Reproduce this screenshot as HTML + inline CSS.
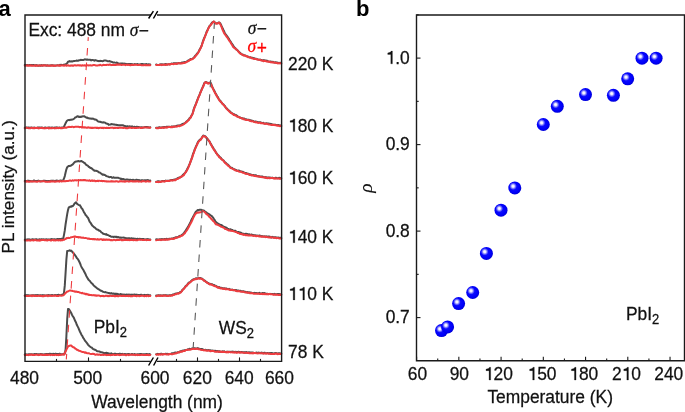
<!DOCTYPE html>
<html><head><meta charset="utf-8"><style>
html,body{margin:0;padding:0;background:#fff;}
body{width:685px;height:412px;overflow:hidden;font-family:"Liberation Sans",sans-serif;}
svg{display:block;will-change:transform;}
</style></head><body>
<svg width="685" height="412" viewBox="0 0 685 412">
<defs>
<radialGradient id="sph" cx="0.45" cy="0.45" r="0.55">
<stop offset="0" stop-color="#1414ff"/>
<stop offset="0.75" stop-color="#0000fa"/>
<stop offset="1" stop-color="#0000d8"/>
</radialGradient>
<radialGradient id="hl" cx="0.5" cy="0.5" r="0.5">
<stop offset="0" stop-color="#fff" stop-opacity="1"/>
<stop offset="0.3" stop-color="#fff" stop-opacity="0.92"/>
<stop offset="0.65" stop-color="#fff" stop-opacity="0.4"/>
<stop offset="1" stop-color="#fff" stop-opacity="0"/>
</radialGradient>
</defs>
<g fill="none" stroke-width="2.0" stroke-linejoin="round" stroke-linecap="round">
<path d="M24.80,65.03 L25.60,64.92 L26.40,65.28 L27.20,64.88 L28.00,65.22 L28.80,65.12 L29.60,64.91 L30.40,65.24 L31.20,64.93 L32.00,65.22 L32.80,64.98 L33.60,65.00 L34.40,65.25 L35.20,65.55 L36.00,65.07 L36.80,65.15 L37.60,65.45 L38.40,65.69 L39.20,65.44 L40.00,65.33 L40.80,65.75 L41.60,65.11 L42.40,65.69 L43.20,65.30 L44.00,65.21 L44.80,65.21 L45.60,65.35 L46.40,65.72 L47.20,65.28 L48.00,65.57 L48.80,65.62 L49.60,65.44 L50.40,65.57 L51.20,65.23 L52.00,65.23 L52.80,65.34 L53.60,65.67 L54.40,65.50 L55.20,65.42 L56.00,65.57 L56.80,65.39 L57.60,65.17 L58.40,65.39 L59.20,65.20 L60.00,64.77 L60.80,64.92 L61.60,64.85 L62.40,65.08 L63.20,64.96 L64.00,64.60 L64.80,65.00 L65.60,64.26 L66.40,63.86 L67.20,63.13 L68.00,61.79 L68.80,61.58 L69.60,61.11 L70.40,61.47 L71.20,61.49 L72.00,61.33 L72.80,61.48 L73.60,60.98 L74.40,61.11 L75.20,60.88 L76.00,60.72 L76.80,60.49 L77.60,60.65 L78.40,60.63 L79.20,60.23 L80.00,60.28 L80.80,59.77 L81.60,60.09 L82.40,59.89 L83.20,59.97 L84.00,59.73 L84.80,59.30 L85.60,59.42 L86.40,59.73 L87.20,59.41 L88.00,59.86 L88.80,59.75 L89.60,59.79 L90.40,59.81 L91.20,60.37 L92.00,59.98 L92.80,60.11 L93.60,60.25 L94.40,60.62 L95.20,60.10 L96.00,60.42 L96.80,60.59 L97.60,60.94 L98.40,61.03 L99.20,61.18 L100.00,60.86 L100.80,60.99 L101.60,60.91 L102.40,61.18 L103.20,61.10 L104.00,60.43 L104.80,60.43 L105.60,60.52 L106.40,60.63 L107.20,60.95 L108.00,61.19 L108.80,61.13 L109.60,61.10 L110.40,61.54 L111.20,61.67 L112.00,61.97 L112.80,62.40 L113.60,62.39 L114.40,62.42 L115.20,62.65 L116.00,62.85 L116.80,62.56 L117.60,63.31 L118.40,63.37 L119.20,63.57 L120.00,63.63 L120.80,63.46 L121.60,63.56 L122.40,63.45 L123.20,63.91 L124.00,63.59 L124.80,63.68 L125.60,63.86 L126.40,63.92 L127.20,64.12 L128.00,63.99 L128.80,63.99 L129.60,64.11 L130.40,64.07 L131.20,64.25 L132.00,64.02 L132.80,64.61 L133.60,64.43 L134.40,64.10 L135.20,64.18 L136.00,64.24 L136.80,64.25 L137.60,64.09 L138.40,64.59 L139.20,64.70 L140.00,64.33 L140.80,64.34 L141.60,64.07 L142.40,64.09 L143.20,64.27 L144.00,64.23 L144.80,64.65 L145.60,64.20 L146.40,64.12 L147.20,64.79 L148.00,64.52 L148.80,64.27 L149.60,64.57 L150.30,64.55" stroke="#4b4b4b"/>
<path d="M156.20,64.42 L157.00,64.72 L157.80,64.99 L158.60,64.87 L159.40,64.71 L160.20,64.37 L161.00,64.40 L161.80,64.22 L162.60,64.60 L163.40,64.39 L164.20,64.52 L165.00,64.16 L165.80,64.03 L166.60,64.40 L167.40,64.46 L168.20,64.31 L169.00,64.22 L169.80,64.16 L170.60,64.04 L171.40,63.61 L172.20,63.74 L173.00,63.54 L173.80,63.23 L174.60,63.15 L175.40,63.24 L176.20,63.13 L177.00,63.34 L177.80,63.44 L178.60,62.98 L179.40,63.23 L180.20,63.17 L181.00,63.07 L181.80,62.60 L182.60,62.43 L183.40,62.33 L184.20,62.16 L185.00,61.94 L185.80,61.92 L186.60,61.71 L187.40,61.21 L188.20,60.48 L189.00,60.13 L189.80,59.81 L190.60,58.98 L191.40,59.12 L192.20,58.97 L193.00,58.37 L193.80,57.66 L194.60,56.67 L195.40,55.56 L196.20,55.00 L197.00,53.61 L197.80,52.81 L198.60,51.73 L199.40,50.01 L200.20,48.53 L201.00,47.21 L201.80,45.04 L202.60,42.43 L203.40,40.11 L204.20,37.92 L205.00,36.39 L205.80,34.25 L206.60,31.75 L207.40,30.30 L208.20,28.66 L209.00,26.94 L209.80,25.62 L210.60,24.86 L211.40,23.60 L212.20,22.34 L213.00,22.05 L213.80,21.59 L214.60,22.15 L215.40,23.27 L216.20,23.20 L217.00,23.39 L217.80,23.15 L218.60,22.53 L219.40,22.48 L220.20,23.15 L221.00,24.65 L221.80,26.75 L222.60,28.18 L223.40,30.02 L224.20,31.55 L225.00,33.61 L225.80,34.41 L226.60,35.51 L227.40,36.61 L228.20,37.99 L229.00,38.92 L229.80,40.59 L230.60,41.61 L231.40,42.91 L232.20,44.21 L233.00,45.14 L233.80,46.65 L234.60,47.53 L235.40,48.26 L236.20,49.53 L237.00,49.73 L237.80,50.58 L238.60,51.49 L239.40,52.18 L240.20,52.82 L241.00,53.68 L241.80,54.28 L242.60,54.88 L243.40,54.75 L244.20,55.35 L245.00,55.40 L245.80,55.70 L246.60,56.32 L247.40,56.40 L248.20,56.69 L249.00,57.07 L249.80,57.41 L250.60,57.31 L251.40,57.65 L252.20,57.79 L253.00,58.01 L253.80,58.34 L254.60,58.37 L255.40,58.63 L256.20,58.79 L257.00,59.30 L257.80,59.32 L258.60,59.63 L259.40,59.85 L260.20,59.55 L261.00,59.93 L261.80,60.36 L262.60,60.45 L263.40,60.11 L264.20,60.26 L265.00,60.63 L265.80,60.52 L266.60,60.78 L267.40,60.81 L268.20,61.37 L269.00,61.59 L269.80,61.80 L270.60,61.40 L271.40,61.92 L272.20,62.00 L273.00,61.76 L273.80,62.39 L274.60,62.56 L275.40,62.15 L276.20,62.77 L277.00,62.49 L277.80,62.66 L278.60,63.12 L279.40,63.13 L280.20,62.77 L281.00,63.07 L281.20,63.15" stroke="#4b4b4b"/>
<path d="M24.80,127.76 L25.60,127.64 L26.40,127.54 L27.20,127.62 L28.00,127.90 L28.80,127.41 L29.60,127.79 L30.40,127.71 L31.20,127.41 L32.00,127.63 L32.80,127.83 L33.60,127.75 L34.40,127.44 L35.20,128.08 L36.00,127.95 L36.80,128.07 L37.60,127.47 L38.40,127.58 L39.20,127.42 L40.00,127.93 L40.80,127.58 L41.60,127.48 L42.40,127.68 L43.20,128.02 L44.00,127.95 L44.80,127.56 L45.60,127.48 L46.40,128.02 L47.20,127.77 L48.00,127.86 L48.80,127.43 L49.60,127.41 L50.40,127.84 L51.20,127.66 L52.00,127.41 L52.80,128.01 L53.60,127.79 L54.40,127.91 L55.20,127.40 L56.00,127.94 L56.80,127.38 L57.60,127.93 L58.40,127.64 L59.20,127.56 L60.00,127.70 L60.80,127.96 L61.60,127.49 L62.40,127.39 L63.20,127.59 L64.00,126.67 L64.80,124.89 L65.60,123.23 L66.40,121.61 L67.20,120.52 L68.00,120.10 L68.80,119.91 L69.60,120.16 L70.40,119.75 L71.20,119.85 L72.00,119.56 L72.80,119.53 L73.60,119.01 L74.40,118.47 L75.20,117.38 L76.00,117.22 L76.80,116.60 L77.60,116.24 L78.40,116.55 L79.20,117.02 L80.00,116.56 L80.80,117.04 L81.60,116.57 L82.40,116.35 L83.20,116.40 L84.00,116.16 L84.80,116.62 L85.60,117.20 L86.40,117.73 L87.20,117.56 L88.00,118.17 L88.80,118.32 L89.60,118.49 L90.40,118.54 L91.20,118.69 L92.00,118.60 L92.80,118.74 L93.60,118.79 L94.40,119.43 L95.20,119.38 L96.00,119.73 L96.80,120.14 L97.60,121.10 L98.40,121.47 L99.20,121.68 L100.00,121.74 L100.80,121.99 L101.60,122.23 L102.40,122.45 L103.20,122.28 L104.00,122.51 L104.80,122.43 L105.60,123.09 L106.40,123.56 L107.20,123.73 L108.00,123.97 L108.80,124.89 L109.60,124.62 L110.40,124.53 L111.20,124.05 L112.00,124.17 L112.80,124.28 L113.60,124.44 L114.40,124.42 L115.20,124.83 L116.00,124.64 L116.80,124.99 L117.60,125.03 L118.40,125.39 L119.20,125.22 L120.00,125.19 L120.80,125.30 L121.60,125.14 L122.40,125.31 L123.20,125.34 L124.00,125.75 L124.80,125.99 L125.60,126.28 L126.40,126.52 L127.20,126.25 L128.00,126.25 L128.80,126.75 L129.60,126.22 L130.40,126.67 L131.20,126.66 L132.00,126.29 L132.80,126.89 L133.60,126.97 L134.40,126.84 L135.20,126.97 L136.00,127.09 L136.80,126.68 L137.60,127.01 L138.40,127.06 L139.20,127.34 L140.00,127.36 L140.80,127.41 L141.60,127.27 L142.40,127.51 L143.20,127.38 L144.00,127.40 L144.80,127.09 L145.60,126.96 L146.40,127.04 L147.20,127.21 L148.00,127.04 L148.80,127.56 L149.60,127.38 L150.30,127.35" stroke="#4b4b4b"/>
<path d="M156.20,127.84 L157.00,127.78 L157.80,127.76 L158.60,127.57 L159.40,127.18 L160.20,127.68 L161.00,127.59 L161.80,127.36 L162.60,127.33 L163.40,127.36 L164.20,126.89 L165.00,127.30 L165.80,126.90 L166.60,126.72 L167.40,126.79 L168.20,127.04 L169.00,126.61 L169.80,126.91 L170.60,127.00 L171.40,126.58 L172.20,126.41 L173.00,126.39 L173.80,126.44 L174.60,126.39 L175.40,126.18 L176.20,126.11 L177.00,125.63 L177.80,125.59 L178.60,125.54 L179.40,125.70 L180.20,125.15 L181.00,125.04 L181.80,124.32 L182.60,123.99 L183.40,123.71 L184.20,123.52 L185.00,123.00 L185.80,122.39 L186.60,121.46 L187.40,120.88 L188.20,120.02 L189.00,119.12 L189.80,117.89 L190.60,117.39 L191.40,115.65 L192.20,114.51 L193.00,112.22 L193.80,109.03 L194.60,106.90 L195.40,105.04 L196.20,103.18 L197.00,100.90 L197.80,98.79 L198.60,96.74 L199.40,95.27 L200.20,92.81 L201.00,91.20 L201.80,89.07 L202.60,87.50 L203.40,85.76 L204.20,83.17 L205.00,82.47 L205.80,81.96 L206.60,82.39 L207.40,82.88 L208.20,82.86 L209.00,83.12 L209.80,82.57 L210.60,82.65 L211.40,84.48 L212.20,86.74 L213.00,88.33 L213.80,89.85 L214.60,91.31 L215.40,92.98 L216.20,94.44 L217.00,96.22 L217.80,96.95 L218.60,98.71 L219.40,99.94 L220.20,100.51 L221.00,102.07 L221.80,102.84 L222.60,103.86 L223.40,104.31 L224.20,105.28 L225.00,106.25 L225.80,107.66 L226.60,108.34 L227.40,109.11 L228.20,110.00 L229.00,110.67 L229.80,111.24 L230.60,111.96 L231.40,113.09 L232.20,113.27 L233.00,114.20 L233.80,114.12 L234.60,114.49 L235.40,115.02 L236.20,115.18 L237.00,115.73 L237.80,116.58 L238.60,116.95 L239.40,117.30 L240.20,117.52 L241.00,118.03 L241.80,118.32 L242.60,118.30 L243.40,118.66 L244.20,118.42 L245.00,119.13 L245.80,119.16 L246.60,119.60 L247.40,119.75 L248.20,119.71 L249.00,119.76 L249.80,120.59 L250.60,120.24 L251.40,120.68 L252.20,120.79 L253.00,120.95 L253.80,121.45 L254.60,121.79 L255.40,121.47 L256.20,121.92 L257.00,121.83 L257.80,122.17 L258.60,122.20 L259.40,122.18 L260.20,122.31 L261.00,122.47 L261.80,123.08 L262.60,122.92 L263.40,122.84 L264.20,123.44 L265.00,123.62 L265.80,123.35 L266.60,123.25 L267.40,123.41 L268.20,123.46 L269.00,123.76 L269.80,123.71 L270.60,123.94 L271.40,124.08 L272.20,124.42 L273.00,124.77 L273.80,124.79 L274.60,124.68 L275.40,124.80 L276.20,125.00 L277.00,125.02 L277.80,125.12 L278.60,125.04 L279.40,125.32 L280.20,125.92 L281.00,125.46 L281.20,125.75" stroke="#4b4b4b"/>
<path d="M24.80,180.95 L25.60,181.04 L26.40,181.20 L27.20,180.75 L28.00,180.79 L28.80,180.77 L29.60,180.88 L30.40,180.91 L31.20,181.26 L32.00,181.19 L32.80,181.20 L33.60,180.61 L34.40,180.61 L35.20,181.09 L36.00,181.21 L36.80,180.92 L37.60,181.00 L38.40,180.58 L39.20,180.85 L40.00,181.23 L40.80,181.15 L41.60,181.17 L42.40,181.25 L43.20,180.74 L44.00,180.64 L44.80,180.67 L45.60,180.93 L46.40,181.04 L47.20,181.22 L48.00,181.06 L48.80,181.01 L49.60,181.09 L50.40,180.87 L51.20,180.93 L52.00,180.57 L52.80,181.09 L53.60,180.70 L54.40,181.18 L55.20,180.98 L56.00,180.74 L56.80,180.61 L57.60,180.70 L58.40,180.96 L59.20,181.00 L60.00,180.59 L60.80,180.55 L61.60,180.87 L62.40,180.89 L63.20,180.37 L64.00,178.47 L64.80,176.06 L65.60,172.50 L66.40,169.30 L67.20,167.21 L68.00,166.47 L68.80,165.92 L69.60,166.01 L70.40,165.70 L71.20,165.44 L72.00,164.88 L72.80,164.43 L73.60,163.39 L74.40,162.46 L75.20,161.67 L76.00,161.58 L76.80,161.49 L77.60,161.18 L78.40,161.00 L79.20,161.27 L80.00,161.45 L80.80,161.04 L81.60,161.09 L82.40,161.59 L83.20,162.03 L84.00,162.71 L84.80,163.03 L85.60,164.20 L86.40,164.93 L87.20,165.47 L88.00,165.88 L88.80,166.99 L89.60,167.08 L90.40,167.97 L91.20,168.10 L92.00,168.65 L92.80,169.59 L93.60,169.80 L94.40,170.72 L95.20,170.74 L96.00,170.73 L96.80,170.92 L97.60,171.30 L98.40,171.89 L99.20,172.60 L100.00,172.62 L100.80,173.37 L101.60,173.77 L102.40,174.73 L103.20,174.49 L104.00,174.71 L104.80,174.98 L105.60,175.47 L106.40,176.10 L107.20,176.37 L108.00,176.54 L108.80,176.98 L109.60,177.15 L110.40,176.92 L111.20,176.98 L112.00,177.65 L112.80,177.64 L113.60,177.27 L114.40,177.81 L115.20,177.69 L116.00,177.77 L116.80,177.82 L117.60,177.81 L118.40,177.82 L119.20,178.18 L120.00,178.41 L120.80,179.04 L121.60,178.66 L122.40,179.43 L123.20,179.05 L124.00,179.27 L124.80,179.70 L125.60,179.78 L126.40,179.58 L127.20,179.38 L128.00,179.74 L128.80,179.72 L129.60,180.16 L130.40,179.70 L131.20,179.86 L132.00,180.27 L132.80,179.70 L133.60,180.00 L134.40,180.31 L135.20,180.30 L136.00,179.82 L136.80,179.84 L137.60,179.88 L138.40,180.50 L139.20,180.06 L140.00,180.42 L140.80,180.55 L141.60,180.18 L142.40,180.15 L143.20,180.65 L144.00,180.42 L144.80,180.19 L145.60,180.52 L146.40,180.25 L147.20,180.24 L148.00,180.06 L148.80,180.60 L149.60,180.73 L150.30,180.45" stroke="#4b4b4b"/>
<path d="M156.20,181.84 L157.00,181.98 L157.80,181.25 L158.60,181.32 L159.40,181.41 L160.20,181.67 L161.00,181.59 L161.80,181.11 L162.60,180.93 L163.40,180.98 L164.20,180.94 L165.00,181.17 L165.80,180.56 L166.60,180.91 L167.40,180.78 L168.20,180.75 L169.00,180.62 L169.80,180.41 L170.60,180.14 L171.40,180.08 L172.20,180.05 L173.00,180.26 L173.80,179.65 L174.60,179.56 L175.40,179.69 L176.20,179.03 L177.00,178.54 L177.80,178.12 L178.60,178.04 L179.40,177.40 L180.20,177.35 L181.00,176.77 L181.80,176.32 L182.60,175.24 L183.40,174.43 L184.20,173.61 L185.00,172.87 L185.80,171.83 L186.60,170.31 L187.40,168.66 L188.20,167.14 L189.00,165.45 L189.80,163.52 L190.60,161.49 L191.40,159.37 L192.20,156.84 L193.00,154.00 L193.80,152.22 L194.60,149.73 L195.40,147.93 L196.20,145.91 L197.00,144.38 L197.80,142.36 L198.60,141.09 L199.40,140.21 L200.20,139.47 L201.00,139.22 L201.80,137.84 L202.60,136.36 L203.40,135.56 L204.20,136.00 L205.00,136.18 L205.80,136.75 L206.60,137.97 L207.40,138.77 L208.20,140.03 L209.00,140.53 L209.80,142.02 L210.60,143.61 L211.40,145.02 L212.20,146.54 L213.00,147.41 L213.80,148.97 L214.60,150.11 L215.40,151.34 L216.20,153.01 L217.00,153.80 L217.80,155.04 L218.60,155.60 L219.40,156.83 L220.20,157.38 L221.00,158.04 L221.80,159.18 L222.60,160.07 L223.40,160.28 L224.20,161.43 L225.00,162.27 L225.80,162.80 L226.60,163.69 L227.40,164.28 L228.20,165.06 L229.00,165.82 L229.80,166.74 L230.60,167.40 L231.40,167.64 L232.20,167.99 L233.00,168.65 L233.80,169.29 L234.60,169.31 L235.40,169.73 L236.20,169.97 L237.00,170.66 L237.80,170.72 L238.60,170.56 L239.40,170.76 L240.20,171.14 L241.00,171.45 L241.80,171.75 L242.60,171.67 L243.40,172.07 L244.20,172.79 L245.00,172.89 L245.80,173.05 L246.60,173.31 L247.40,174.00 L248.20,173.77 L249.00,174.16 L249.80,174.21 L250.60,174.45 L251.40,174.95 L252.20,175.22 L253.00,174.95 L253.80,175.01 L254.60,175.55 L255.40,175.34 L256.20,175.36 L257.00,176.15 L257.80,175.97 L258.60,176.40 L259.40,176.25 L260.20,176.72 L261.00,176.56 L261.80,176.48 L262.60,176.50 L263.40,177.00 L264.20,177.17 L265.00,177.47 L265.80,177.00 L266.60,177.46 L267.40,177.38 L268.20,177.55 L269.00,177.38 L269.80,177.54 L270.60,177.76 L271.40,178.09 L272.20,177.56 L273.00,177.87 L273.80,178.12 L274.60,178.26 L275.40,177.75 L276.20,177.72 L277.00,178.32 L277.80,178.36 L278.60,178.04 L279.40,177.77 L280.20,178.41 L281.00,178.06 L281.20,178.15" stroke="#4b4b4b"/>
<path d="M24.80,239.83 L25.60,239.63 L26.40,239.78 L27.20,239.31 L28.00,239.75 L28.80,239.35 L29.60,239.48 L30.40,239.79 L31.20,239.78 L32.00,239.32 L32.80,239.35 L33.60,239.47 L34.40,239.55 L35.20,239.46 L36.00,239.27 L36.80,239.36 L37.60,239.69 L38.40,239.80 L39.20,239.20 L40.00,239.56 L40.80,239.69 L41.60,239.18 L42.40,239.74 L43.20,239.22 L44.00,239.55 L44.80,239.51 L45.60,239.56 L46.40,239.32 L47.20,239.39 L48.00,239.49 L48.80,239.37 L49.60,239.52 L50.40,239.36 L51.20,239.34 L52.00,239.03 L52.80,239.43 L53.60,239.33 L54.40,239.13 L55.20,239.48 L56.00,239.47 L56.80,239.22 L57.60,239.01 L58.40,239.19 L59.20,238.91 L60.00,238.90 L60.80,239.08 L61.60,238.81 L62.40,239.03 L63.20,238.66 L64.00,234.85 L64.80,230.39 L65.60,224.23 L66.40,219.20 L67.20,214.14 L68.00,209.96 L68.80,207.38 L69.60,207.00 L70.40,206.57 L71.20,206.78 L72.00,206.07 L72.80,206.13 L73.60,205.13 L74.40,203.81 L75.20,203.02 L76.00,202.25 L76.80,203.56 L77.60,204.12 L78.40,204.87 L79.20,205.19 L80.00,205.33 L80.80,206.85 L81.60,208.27 L82.40,209.01 L83.20,210.61 L84.00,212.35 L84.80,213.34 L85.60,215.12 L86.40,215.67 L87.20,217.00 L88.00,217.75 L88.80,219.61 L89.60,221.61 L90.40,222.58 L91.20,223.89 L92.00,225.21 L92.80,226.08 L93.60,226.72 L94.40,227.46 L95.20,227.94 L96.00,228.93 L96.80,229.21 L97.60,229.86 L98.40,229.81 L99.20,230.72 L100.00,230.78 L100.80,231.71 L101.60,232.50 L102.40,232.96 L103.20,233.81 L104.00,233.91 L104.80,234.13 L105.60,234.50 L106.40,234.12 L107.20,235.00 L108.00,235.11 L108.80,235.39 L109.60,236.11 L110.40,236.12 L111.20,236.87 L112.00,236.73 L112.80,236.67 L113.60,237.00 L114.40,236.81 L115.20,236.66 L116.00,237.12 L116.80,236.72 L117.60,237.35 L118.40,237.06 L119.20,237.43 L120.00,237.78 L120.80,237.60 L121.60,237.77 L122.40,237.63 L123.20,237.52 L124.00,237.65 L124.80,237.83 L125.60,238.25 L126.40,238.22 L127.20,238.36 L128.00,238.70 L128.80,238.23 L129.60,238.36 L130.40,238.72 L131.20,238.32 L132.00,238.36 L132.80,238.64 L133.60,238.51 L134.40,238.72 L135.20,238.66 L136.00,238.94 L136.80,238.98 L137.60,238.74 L138.40,239.06 L139.20,238.99 L140.00,238.78 L140.80,239.37 L141.60,238.92 L142.40,238.89 L143.20,238.90 L144.00,239.32 L144.80,239.52 L145.60,239.50 L146.40,239.28 L147.20,239.22 L148.00,239.09 L148.80,239.57 L149.60,239.56 L150.30,239.55" stroke="#4b4b4b"/>
<path d="M156.20,239.35 L157.00,239.52 L157.80,239.36 L158.60,239.69 L159.40,239.53 L160.20,239.17 L161.00,239.62 L161.80,239.00 L162.60,239.33 L163.40,239.22 L164.20,239.08 L165.00,238.92 L165.80,239.39 L166.60,238.80 L167.40,239.12 L168.20,239.32 L169.00,238.68 L169.80,238.63 L170.60,238.80 L171.40,238.61 L172.20,238.57 L173.00,238.54 L173.80,237.92 L174.60,237.81 L175.40,237.58 L176.20,237.15 L177.00,237.46 L177.80,237.07 L178.60,236.70 L179.40,235.86 L180.20,236.08 L181.00,235.59 L181.80,234.90 L182.60,234.51 L183.40,233.61 L184.20,232.61 L185.00,231.50 L185.80,230.43 L186.60,229.03 L187.40,227.86 L188.20,226.65 L189.00,225.04 L189.80,223.55 L190.60,221.88 L191.40,220.01 L192.20,218.61 L193.00,216.91 L193.80,215.58 L194.60,213.92 L195.40,212.43 L196.20,211.44 L197.00,210.72 L197.80,209.92 L198.60,210.31 L199.40,209.66 L200.20,209.80 L201.00,209.77 L201.80,210.12 L202.60,210.27 L203.40,210.42 L204.20,210.68 L205.00,211.75 L205.80,212.04 L206.60,212.53 L207.40,213.48 L208.20,213.73 L209.00,214.21 L209.80,214.66 L210.60,215.40 L211.40,215.66 L212.20,216.65 L213.00,217.43 L213.80,218.79 L214.60,219.94 L215.40,221.51 L216.20,222.41 L217.00,222.95 L217.80,223.45 L218.60,224.18 L219.40,224.18 L220.20,225.11 L221.00,224.94 L221.80,225.29 L222.60,225.78 L223.40,226.80 L224.20,226.82 L225.00,227.10 L225.80,227.42 L226.60,227.82 L227.40,228.63 L228.20,228.92 L229.00,229.26 L229.80,229.55 L230.60,229.31 L231.40,229.90 L232.20,229.95 L233.00,230.49 L233.80,230.72 L234.60,231.02 L235.40,230.73 L236.20,231.61 L237.00,231.97 L237.80,232.31 L238.60,232.03 L239.40,232.37 L240.20,232.53 L241.00,232.68 L241.80,233.44 L242.60,233.60 L243.40,233.64 L244.20,233.94 L245.00,233.96 L245.80,233.86 L246.60,233.87 L247.40,234.00 L248.20,234.59 L249.00,234.32 L249.80,234.52 L250.60,234.70 L251.40,234.53 L252.20,234.79 L253.00,234.91 L253.80,235.31 L254.60,235.16 L255.40,235.23 L256.20,235.77 L257.00,235.54 L257.80,235.88 L258.60,235.81 L259.40,235.50 L260.20,235.86 L261.00,235.98 L261.80,236.31 L262.60,236.11 L263.40,236.45 L264.20,236.42 L265.00,236.28 L265.80,236.81 L266.60,236.35 L267.40,236.94 L268.20,236.56 L269.00,236.52 L269.80,236.73 L270.60,237.19 L271.40,237.42 L272.20,236.80 L273.00,237.21 L273.80,237.28 L274.60,237.57 L275.40,237.21 L276.20,237.49 L277.00,237.46 L277.80,237.87 L278.60,237.54 L279.40,238.09 L280.20,237.70 L281.00,237.73 L281.20,237.95" stroke="#4b4b4b"/>
<path d="M24.80,295.49 L25.60,295.35 L26.40,295.08 L27.20,295.44 L28.00,295.05 L28.80,295.55 L29.60,295.48 L30.40,295.55 L31.20,295.43 L32.00,295.24 L32.80,295.27 L33.60,295.27 L34.40,295.61 L35.20,295.05 L36.00,295.61 L36.80,295.00 L37.60,295.12 L38.40,295.16 L39.20,295.60 L40.00,295.32 L40.80,295.23 L41.60,295.58 L42.40,295.12 L43.20,295.27 L44.00,295.32 L44.80,295.47 L45.60,295.46 L46.40,295.37 L47.20,295.16 L48.00,295.13 L48.80,295.00 L49.60,295.47 L50.40,295.34 L51.20,295.38 L52.00,294.97 L52.80,295.14 L53.60,295.36 L54.40,295.21 L55.20,294.88 L56.00,295.10 L56.80,295.37 L57.60,294.90 L58.40,294.85 L59.20,294.91 L60.00,295.17 L60.80,295.24 L61.60,294.74 L62.40,294.71 L63.20,294.25 L64.00,292.93 L64.80,285.39 L65.60,272.55 L66.40,259.33 L67.20,250.97 L68.00,250.89 L68.80,250.71 L69.60,250.27 L70.40,250.88 L71.20,250.61 L72.00,251.40 L72.80,252.56 L73.60,253.33 L74.40,254.39 L75.20,255.45 L76.00,256.57 L76.80,258.07 L77.60,258.78 L78.40,260.01 L79.20,261.57 L80.00,263.19 L80.80,265.36 L81.60,267.18 L82.40,268.46 L83.20,269.65 L84.00,271.22 L84.80,272.77 L85.60,274.27 L86.40,276.23 L87.20,277.51 L88.00,278.92 L88.80,280.05 L89.60,280.68 L90.40,281.74 L91.20,282.79 L92.00,283.45 L92.80,284.16 L93.60,285.31 L94.40,286.17 L95.20,286.78 L96.00,287.38 L96.80,288.11 L97.60,288.60 L98.40,289.19 L99.20,289.66 L100.00,290.13 L100.80,290.83 L101.60,290.85 L102.40,291.38 L103.20,291.89 L104.00,292.05 L104.80,292.19 L105.60,292.12 L106.40,292.42 L107.20,292.61 L108.00,292.88 L108.80,292.88 L109.60,293.21 L110.40,293.51 L111.20,293.11 L112.00,293.56 L112.80,293.75 L113.60,293.58 L114.40,293.75 L115.20,294.18 L116.00,293.62 L116.80,294.05 L117.60,293.86 L118.40,294.37 L119.20,294.54 L120.00,294.31 L120.80,294.06 L121.60,294.44 L122.40,294.46 L123.20,294.63 L124.00,294.52 L124.80,294.64 L125.60,294.81 L126.40,294.62 L127.20,294.57 L128.00,294.98 L128.80,294.49 L129.60,294.85 L130.40,294.67 L131.20,294.96 L132.00,294.54 L132.80,295.17 L133.60,294.75 L134.40,294.57 L135.20,294.74 L136.00,294.84 L136.80,294.59 L137.60,294.89 L138.40,294.91 L139.20,295.11 L140.00,294.89 L140.80,294.84 L141.60,294.82 L142.40,295.19 L143.20,295.34 L144.00,295.07 L144.80,294.86 L145.60,295.28 L146.40,295.01 L147.20,294.89 L148.00,294.85 L148.80,295.32 L149.60,295.35 L150.30,295.15" stroke="#4b4b4b"/>
<path d="M156.20,295.54 L157.00,295.42 L157.80,295.47 L158.60,295.21 L159.40,295.72 L160.20,295.27 L161.00,295.46 L161.80,295.58 L162.60,295.57 L163.40,295.33 L164.20,295.21 L165.00,295.40 L165.80,295.12 L166.60,295.64 L167.40,295.32 L168.20,295.68 L169.00,295.28 L169.80,295.36 L170.60,295.25 L171.40,295.24 L172.20,294.86 L173.00,294.46 L173.80,294.66 L174.60,294.04 L175.40,293.71 L176.20,293.48 L177.00,293.39 L177.80,293.14 L178.60,293.04 L179.40,292.73 L180.20,292.06 L181.00,291.84 L181.80,290.99 L182.60,289.52 L183.40,289.09 L184.20,288.17 L185.00,287.16 L185.80,285.86 L186.60,285.50 L187.40,284.53 L188.20,283.29 L189.00,282.52 L189.80,282.45 L190.60,281.57 L191.40,280.67 L192.20,279.99 L193.00,279.52 L193.80,279.16 L194.60,279.21 L195.40,278.64 L196.20,278.28 L197.00,278.61 L197.80,278.36 L198.60,277.80 L199.40,278.23 L200.20,278.04 L201.00,278.30 L201.80,278.52 L202.60,279.15 L203.40,279.74 L204.20,280.52 L205.00,280.74 L205.80,281.67 L206.60,282.12 L207.40,282.79 L208.20,283.05 L209.00,283.76 L209.80,283.85 L210.60,283.93 L211.40,284.16 L212.20,284.34 L213.00,284.87 L213.80,284.88 L214.60,285.51 L215.40,285.65 L216.20,286.25 L217.00,286.61 L217.80,286.96 L218.60,287.48 L219.40,287.12 L220.20,287.90 L221.00,287.80 L221.80,288.01 L222.60,288.21 L223.40,288.45 L224.20,288.24 L225.00,288.41 L225.80,288.93 L226.60,288.46 L227.40,288.99 L228.20,289.13 L229.00,288.84 L229.80,289.38 L230.60,289.57 L231.40,289.87 L232.20,289.58 L233.00,290.16 L233.80,289.95 L234.60,290.04 L235.40,290.44 L236.20,289.95 L237.00,290.54 L237.80,290.59 L238.60,290.51 L239.40,290.99 L240.20,290.77 L241.00,290.98 L241.80,291.16 L242.60,291.48 L243.40,291.24 L244.20,291.54 L245.00,291.69 L245.80,291.93 L246.60,292.26 L247.40,292.03 L248.20,292.53 L249.00,292.35 L249.80,292.53 L250.60,292.46 L251.40,292.70 L252.20,293.11 L253.00,292.95 L253.80,293.11 L254.60,292.84 L255.40,292.88 L256.20,292.91 L257.00,293.15 L257.80,293.23 L258.60,293.37 L259.40,292.88 L260.20,293.40 L261.00,293.55 L261.80,293.35 L262.60,293.04 L263.40,293.26 L264.20,293.10 L265.00,293.28 L265.80,293.84 L266.60,293.67 L267.40,293.75 L268.20,293.89 L269.00,294.02 L269.80,293.86 L270.60,293.91 L271.40,293.96 L272.20,294.06 L273.00,294.04 L273.80,294.14 L274.60,293.86 L275.40,294.23 L276.20,294.13 L277.00,294.39 L277.80,293.97 L278.60,294.07 L279.40,294.02 L280.20,294.58 L281.00,294.73 L281.20,294.45" stroke="#4b4b4b"/>
<path d="M24.80,354.46 L25.60,354.26 L26.40,354.57 L27.20,354.54 L28.00,354.38 L28.80,354.17 L29.60,354.19 L30.40,354.27 L31.20,354.19 L32.00,354.27 L32.80,354.41 L33.60,354.61 L34.40,353.98 L35.20,354.33 L36.00,353.96 L36.80,354.01 L37.60,354.48 L38.40,354.31 L39.20,354.54 L40.00,354.20 L40.80,353.89 L41.60,354.15 L42.40,354.28 L43.20,354.51 L44.00,354.53 L44.80,354.17 L45.60,354.12 L46.40,353.89 L47.20,354.27 L48.00,353.95 L48.80,353.90 L49.60,353.80 L50.40,353.79 L51.20,354.25 L52.00,353.85 L52.80,354.44 L53.60,353.81 L54.40,354.35 L55.20,353.83 L56.00,353.75 L56.80,354.23 L57.60,353.89 L58.40,354.23 L59.20,353.84 L60.00,353.74 L60.80,354.25 L61.60,354.20 L62.40,354.30 L63.20,354.20 L64.00,353.66 L64.80,353.79 L65.60,349.33 L66.40,335.98 L67.20,319.25 L68.00,309.06 L68.80,308.93 L69.60,310.30 L70.40,311.63 L71.20,312.97 L72.00,314.71 L72.80,316.24 L73.60,317.28 L74.40,319.08 L75.20,321.10 L76.00,322.51 L76.80,324.83 L77.60,326.36 L78.40,327.86 L79.20,329.87 L80.00,331.76 L80.80,333.32 L81.60,335.02 L82.40,336.09 L83.20,337.92 L84.00,338.91 L84.80,340.33 L85.60,341.46 L86.40,342.39 L87.20,343.38 L88.00,344.61 L88.80,345.60 L89.60,346.29 L90.40,346.87 L91.20,347.33 L92.00,347.74 L92.80,348.89 L93.60,349.16 L94.40,349.68 L95.20,349.73 L96.00,350.32 L96.80,350.96 L97.60,351.20 L98.40,351.36 L99.20,351.44 L100.00,351.79 L100.80,352.34 L101.60,352.19 L102.40,352.59 L103.20,352.70 L104.00,353.05 L104.80,353.13 L105.60,352.89 L106.40,352.80 L107.20,353.08 L108.00,353.28 L108.80,353.47 L109.60,353.70 L110.40,353.81 L111.20,353.28 L112.00,353.88 L112.80,353.91 L113.60,353.99 L114.40,353.82 L115.20,353.65 L116.00,354.09 L116.80,354.09 L117.60,354.03 L118.40,354.22 L119.20,353.85 L120.00,353.70 L120.80,354.05 L121.60,354.24 L122.40,353.84 L123.20,354.25 L124.00,354.39 L124.80,353.92 L125.60,354.20 L126.40,354.26 L127.20,354.13 L128.00,353.96 L128.80,354.00 L129.60,354.36 L130.40,354.40 L131.20,354.18 L132.00,353.93 L132.80,354.44 L133.60,354.42 L134.40,354.05 L135.20,354.30 L136.00,354.53 L136.80,354.52 L137.60,354.27 L138.40,354.25 L139.20,354.33 L140.00,354.05 L140.80,354.06 L141.60,354.06 L142.40,354.43 L143.20,354.19 L144.00,354.34 L144.80,354.23 L145.60,354.32 L146.40,354.07 L147.20,354.00 L148.00,354.67 L148.80,354.25 L149.60,354.07 L150.30,354.35" stroke="#4b4b4b"/>
<path d="M156.20,354.24 L157.00,354.33 L157.80,353.86 L158.60,354.15 L159.40,353.95 L160.20,354.05 L161.00,353.68 L161.80,353.66 L162.60,354.31 L163.40,354.19 L164.20,353.91 L165.00,353.95 L165.80,353.73 L166.60,354.08 L167.40,353.81 L168.20,354.15 L169.00,353.99 L169.80,353.99 L170.60,354.03 L171.40,353.46 L172.20,353.21 L173.00,353.20 L173.80,353.03 L174.60,352.78 L175.40,352.55 L176.20,352.68 L177.00,352.67 L177.80,352.15 L178.60,352.26 L179.40,352.02 L180.20,351.21 L181.00,351.37 L181.80,351.00 L182.60,350.57 L183.40,350.93 L184.20,350.20 L185.00,350.19 L185.80,350.03 L186.60,350.04 L187.40,349.64 L188.20,349.28 L189.00,349.15 L189.80,348.78 L190.60,349.18 L191.40,349.05 L192.20,348.38 L193.00,348.13 L193.80,348.19 L194.60,348.19 L195.40,348.54 L196.20,348.54 L197.00,348.55 L197.80,348.09 L198.60,348.74 L199.40,348.85 L200.20,348.98 L201.00,349.41 L201.80,348.95 L202.60,349.19 L203.40,349.78 L204.20,350.04 L205.00,349.97 L205.80,349.82 L206.60,350.14 L207.40,350.36 L208.20,350.01 L209.00,350.26 L209.80,350.31 L210.60,350.31 L211.40,350.65 L212.20,350.52 L213.00,350.65 L213.80,350.67 L214.60,351.12 L215.40,350.73 L216.20,351.29 L217.00,350.99 L217.80,350.94 L218.60,351.62 L219.40,351.18 L220.20,351.73 L221.00,351.73 L221.80,351.79 L222.60,351.31 L223.40,351.56 L224.20,351.35 L225.00,351.97 L225.80,351.94 L226.60,351.82 L227.40,351.72 L228.20,351.67 L229.00,352.03 L229.80,351.81 L230.60,351.94 L231.40,351.63 L232.20,351.70 L233.00,351.61 L233.80,352.09 L234.60,352.00 L235.40,351.74 L236.20,352.27 L237.00,351.87 L237.80,352.00 L238.60,351.84 L239.40,351.95 L240.20,352.38 L241.00,352.06 L241.80,351.97 L242.60,352.23 L243.40,352.14 L244.20,352.58 L245.00,352.06 L245.80,352.70 L246.60,352.08 L247.40,352.70 L248.20,352.58 L249.00,352.29 L249.80,352.51 L250.60,352.40 L251.40,352.41 L252.20,352.41 L253.00,352.55 L253.80,353.02 L254.60,353.06 L255.40,353.03 L256.20,352.49 L257.00,352.65 L257.80,353.10 L258.60,352.55 L259.40,353.04 L260.20,352.77 L261.00,353.27 L261.80,352.63 L262.60,353.21 L263.40,352.91 L264.20,352.79 L265.00,352.72 L265.80,353.33 L266.60,353.14 L267.40,352.93 L268.20,353.12 L269.00,353.48 L269.80,353.02 L270.60,353.29 L271.40,353.01 L272.20,353.06 L273.00,353.50 L273.80,353.48 L274.60,353.14 L275.40,353.09 L276.20,353.11 L277.00,353.50 L277.80,353.45 L278.60,353.31 L279.40,353.29 L280.20,353.60 L281.00,353.69 L281.20,353.55" stroke="#4b4b4b"/>
<path d="M24.80,65.82 L25.60,65.66 L26.40,65.39 L27.20,65.30 L28.00,65.76 L28.80,65.54 L29.60,65.76 L30.40,65.29 L31.20,65.82 L32.00,65.48 L32.80,65.84 L33.60,65.86 L34.40,65.60 L35.20,65.26 L36.00,65.89 L36.80,65.58 L37.60,65.86 L38.40,65.44 L39.20,65.38 L40.00,65.83 L40.80,65.51 L41.60,65.36 L42.40,65.51 L43.20,65.67 L44.00,65.25 L44.80,65.61 L45.60,65.56 L46.40,65.61 L47.20,65.33 L48.00,65.75 L48.80,65.82 L49.60,65.86 L50.40,65.47 L51.20,65.75 L52.00,65.52 L52.80,65.78 L53.60,65.29 L54.40,65.86 L55.20,65.92 L56.00,65.60 L56.80,65.61 L57.60,65.62 L58.40,65.63 L59.20,65.26 L60.00,65.93 L60.80,65.41 L61.60,65.38 L62.40,65.32 L63.20,65.43 L64.00,65.82 L64.80,65.27 L65.60,65.32 L66.40,65.74 L67.20,65.39 L68.00,65.26 L68.80,65.67 L69.60,65.65 L70.40,65.60 L71.20,65.72 L72.00,65.29 L72.80,65.82 L73.60,65.70 L74.40,65.22 L75.20,65.26 L76.00,65.51 L76.80,65.51 L77.60,65.34 L78.40,65.22 L79.20,65.41 L80.00,65.22 L80.80,65.53 L81.60,65.71 L82.40,65.20 L83.20,65.49 L84.00,65.60 L84.80,65.18 L85.60,65.63 L86.40,65.70 L87.20,65.30 L88.00,65.31 L88.80,65.59 L89.60,65.35 L90.40,65.25 L91.20,65.61 L92.00,65.48 L92.80,65.16 L93.60,65.07 L94.40,65.12 L95.20,65.17 L96.00,65.54 L96.80,65.39 L97.60,65.45 L98.40,65.36 L99.20,65.37 L100.00,64.79 L100.80,65.10 L101.60,65.39 L102.40,65.35 L103.20,64.86 L104.00,64.96 L104.80,65.09 L105.60,64.88 L106.40,64.97 L107.20,64.63 L108.00,64.86 L108.80,64.88 L109.60,64.52 L110.40,64.57 L111.20,65.13 L112.00,64.97 L112.80,65.06 L113.60,64.83 L114.40,64.94 L115.20,64.98 L116.00,64.97 L116.80,64.37 L117.60,64.80 L118.40,64.54 L119.20,64.84 L120.00,64.57 L120.80,64.77 L121.60,65.06 L122.40,64.86 L123.20,64.62 L124.00,64.83 L124.80,64.79 L125.60,65.17 L126.40,64.72 L127.20,64.75 L128.00,65.00 L128.80,64.65 L129.60,64.99 L130.40,65.26 L131.20,64.96 L132.00,64.80 L132.80,64.95 L133.60,65.01 L134.40,64.75 L135.20,64.74 L136.00,64.76 L136.80,64.88 L137.60,64.97 L138.40,64.90 L139.20,64.88 L140.00,64.78 L140.80,65.11 L141.60,65.33 L142.40,65.17 L143.20,65.16 L144.00,65.22 L144.80,64.92 L145.60,65.29 L146.40,65.12 L147.20,65.19 L148.00,65.25 L148.80,65.16 L149.60,65.06 L150.30,65.20" stroke="#ee3d40"/>
<path d="M156.20,65.02 L157.00,64.96 L157.80,65.12 L158.60,64.98 L159.40,65.08 L160.20,64.64 L161.00,64.84 L161.80,65.15 L162.60,64.68 L163.40,64.86 L164.20,64.77 L165.00,64.58 L165.80,65.02 L166.60,64.48 L167.40,64.76 L168.20,64.28 L169.00,64.15 L169.80,64.65 L170.60,64.28 L171.40,63.94 L172.20,64.10 L173.00,64.05 L173.80,64.18 L174.60,63.66 L175.40,63.65 L176.20,64.07 L177.00,63.83 L177.80,63.32 L178.60,63.36 L179.40,63.27 L180.20,63.40 L181.00,63.28 L181.80,63.39 L182.60,63.30 L183.40,62.99 L184.20,62.99 L185.00,62.77 L185.80,62.46 L186.60,61.86 L187.40,61.62 L188.20,61.09 L189.00,60.77 L189.80,59.79 L190.60,59.98 L191.40,59.11 L192.20,59.32 L193.00,58.68 L193.80,57.93 L194.60,57.46 L195.40,56.29 L196.20,55.19 L197.00,54.38 L197.80,53.31 L198.60,51.92 L199.40,50.45 L200.20,49.02 L201.00,47.32 L201.80,45.49 L202.60,42.96 L203.40,40.74 L204.20,38.66 L205.00,36.48 L205.80,34.36 L206.60,32.65 L207.40,30.77 L208.20,28.77 L209.00,27.25 L209.80,25.97 L210.60,25.15 L211.40,24.04 L212.20,23.09 L213.00,22.06 L213.80,21.45 L214.60,22.67 L215.40,23.10 L216.20,23.73 L217.00,23.61 L217.80,23.49 L218.60,22.78 L219.40,22.85 L220.20,24.18 L221.00,25.62 L221.80,27.55 L222.60,29.80 L223.40,31.59 L224.20,33.42 L225.00,34.53 L225.80,35.43 L226.60,36.82 L227.40,37.67 L228.20,38.90 L229.00,40.27 L229.80,41.31 L230.60,42.55 L231.40,44.03 L232.20,45.14 L233.00,46.74 L233.80,47.55 L234.60,48.22 L235.40,48.54 L236.20,49.30 L237.00,49.95 L237.80,50.83 L238.60,51.70 L239.40,52.78 L240.20,53.65 L241.00,53.96 L241.80,54.42 L242.60,54.92 L243.40,55.49 L244.20,55.31 L245.00,55.72 L245.80,56.22 L246.60,56.06 L247.40,56.45 L248.20,57.18 L249.00,57.35 L249.80,57.39 L250.60,57.36 L251.40,58.16 L252.20,58.26 L253.00,58.59 L253.80,58.94 L254.60,59.09 L255.40,58.98 L256.20,59.01 L257.00,59.31 L257.80,59.66 L258.60,59.84 L259.40,59.80 L260.20,59.97 L261.00,60.45 L261.80,60.60 L262.60,60.58 L263.40,61.18 L264.20,61.08 L265.00,60.81 L265.80,61.22 L266.60,61.62 L267.40,61.42 L268.20,61.83 L269.00,61.49 L269.80,61.83 L270.60,62.34 L271.40,62.28 L272.20,62.46 L273.00,62.24 L273.80,62.57 L274.60,62.72 L275.40,62.63 L276.20,63.01 L277.00,63.03 L277.80,63.47 L278.60,63.28 L279.40,63.28 L280.20,63.19 L281.00,63.33 L281.20,63.60" stroke="#ee3d40"/>
<path d="M24.80,128.28 L25.60,127.82 L26.40,127.82 L27.20,127.87 L28.00,128.11 L28.80,128.33 L29.60,128.18 L30.40,128.31 L31.20,127.79 L32.00,127.76 L32.80,128.29 L33.60,127.97 L34.40,128.25 L35.20,127.99 L36.00,127.86 L36.80,127.93 L37.60,127.81 L38.40,128.38 L39.20,128.15 L40.00,127.99 L40.80,128.06 L41.60,128.01 L42.40,127.78 L43.20,128.36 L44.00,128.14 L44.80,128.41 L45.60,128.04 L46.40,128.16 L47.20,127.90 L48.00,127.76 L48.80,128.38 L49.60,128.32 L50.40,127.94 L51.20,128.35 L52.00,128.28 L52.80,127.92 L53.60,128.13 L54.40,128.38 L55.20,128.05 L56.00,128.36 L56.80,127.86 L57.60,127.96 L58.40,128.18 L59.20,127.83 L60.00,127.89 L60.80,128.28 L61.60,128.00 L62.40,128.21 L63.20,127.82 L64.00,127.71 L64.80,127.72 L65.60,127.45 L66.40,127.83 L67.20,127.19 L68.00,127.23 L68.80,126.80 L69.60,127.03 L70.40,126.92 L71.20,126.93 L72.00,126.70 L72.80,126.74 L73.60,127.23 L74.40,126.90 L75.20,126.82 L76.00,126.78 L76.80,126.85 L77.60,126.84 L78.40,126.73 L79.20,127.20 L80.00,127.02 L80.80,126.94 L81.60,127.38 L82.40,127.00 L83.20,127.18 L84.00,127.63 L84.80,127.18 L85.60,127.44 L86.40,127.75 L87.20,127.76 L88.00,127.35 L88.80,127.52 L89.60,127.81 L90.40,127.60 L91.20,128.05 L92.00,127.55 L92.80,128.10 L93.60,127.82 L94.40,127.65 L95.20,127.83 L96.00,127.62 L96.80,128.03 L97.60,127.73 L98.40,128.18 L99.20,127.96 L100.00,127.81 L100.80,127.72 L101.60,127.98 L102.40,127.70 L103.20,128.16 L104.00,127.64 L104.80,127.91 L105.60,127.93 L106.40,127.74 L107.20,128.09 L108.00,127.82 L108.80,128.01 L109.60,127.95 L110.40,127.77 L111.20,127.82 L112.00,127.61 L112.80,127.67 L113.60,128.15 L114.40,127.77 L115.20,128.01 L116.00,127.63 L116.80,127.94 L117.60,127.80 L118.40,127.90 L119.20,127.76 L120.00,127.60 L120.80,127.77 L121.60,127.71 L122.40,127.64 L123.20,128.05 L124.00,127.74 L124.80,127.82 L125.60,128.17 L126.40,128.08 L127.20,128.15 L128.00,128.13 L128.80,127.61 L129.60,127.71 L130.40,127.53 L131.20,127.98 L132.00,127.96 L132.80,127.74 L133.60,127.78 L134.40,127.94 L135.20,127.96 L136.00,127.64 L136.80,128.05 L137.60,127.70 L138.40,127.89 L139.20,127.57 L140.00,127.51 L140.80,128.07 L141.60,127.93 L142.40,127.91 L143.20,127.43 L144.00,127.43 L144.80,127.51 L145.60,127.52 L146.40,127.59 L147.20,127.64 L148.00,127.39 L148.80,127.58 L149.60,127.80 L150.30,127.70" stroke="#ee3d40"/>
<path d="M156.20,127.98 L157.00,128.38 L157.80,128.13 L158.60,128.18 L159.40,127.80 L160.20,127.87 L161.00,127.99 L161.80,127.71 L162.60,127.41 L163.40,127.94 L164.20,127.84 L165.00,127.44 L165.80,127.21 L166.60,127.71 L167.40,127.48 L168.20,127.02 L169.00,127.09 L169.80,126.92 L170.60,127.32 L171.40,126.83 L172.20,127.24 L173.00,127.03 L173.80,126.47 L174.60,126.79 L175.40,126.47 L176.20,126.64 L177.00,126.61 L177.80,126.13 L178.60,125.87 L179.40,126.29 L180.20,125.68 L181.00,125.74 L181.80,125.25 L182.60,124.91 L183.40,124.56 L184.20,123.94 L185.00,123.28 L185.80,122.41 L186.60,122.19 L187.40,121.27 L188.20,120.51 L189.00,119.89 L189.80,118.34 L190.60,117.75 L191.40,115.99 L192.20,114.77 L193.00,112.58 L193.80,109.65 L194.60,107.41 L195.40,105.60 L196.20,103.40 L197.00,101.41 L197.80,99.23 L198.60,97.09 L199.40,95.30 L200.20,93.40 L201.00,91.38 L201.80,89.63 L202.60,87.68 L203.40,86.04 L204.20,84.00 L205.00,82.51 L205.80,82.23 L206.60,82.58 L207.40,83.15 L208.20,83.80 L209.00,83.18 L209.80,82.89 L210.60,83.71 L211.40,85.03 L212.20,87.24 L213.00,88.70 L213.80,90.66 L214.60,92.05 L215.40,93.72 L216.20,94.78 L217.00,96.55 L217.80,97.82 L218.60,98.96 L219.40,100.33 L220.20,101.46 L221.00,101.95 L221.80,103.00 L222.60,103.93 L223.40,104.70 L224.20,105.51 L225.00,106.62 L225.80,107.55 L226.60,108.87 L227.40,109.62 L228.20,110.23 L229.00,111.16 L229.80,111.99 L230.60,112.59 L231.40,113.07 L232.20,113.57 L233.00,114.00 L233.80,115.09 L234.60,115.28 L235.40,115.17 L236.20,116.00 L237.00,116.61 L237.80,116.75 L238.60,116.86 L239.40,117.52 L240.20,117.84 L241.00,117.97 L241.80,118.49 L242.60,118.37 L243.40,119.25 L244.20,119.29 L245.00,119.51 L245.80,119.95 L246.60,119.98 L247.40,119.92 L248.20,120.14 L249.00,120.28 L249.80,120.41 L250.60,121.14 L251.40,121.39 L252.20,121.21 L253.00,121.32 L253.80,121.83 L254.60,122.15 L255.40,122.39 L256.20,122.03 L257.00,122.62 L257.80,122.81 L258.60,122.89 L259.40,122.74 L260.20,122.78 L261.00,123.35 L261.80,123.12 L262.60,123.28 L263.40,123.52 L264.20,123.51 L265.00,123.95 L265.80,123.65 L266.60,123.63 L267.40,124.12 L268.20,124.29 L269.00,124.55 L269.80,124.59 L270.60,124.86 L271.40,125.01 L272.20,124.82 L273.00,124.94 L273.80,124.83 L274.60,125.05 L275.40,125.37 L276.20,125.14 L277.00,125.69 L277.80,125.44 L278.60,125.76 L279.40,126.25 L280.20,125.76 L281.00,125.85 L281.20,126.20" stroke="#ee3d40"/>
<path d="M24.80,181.46 L25.60,181.28 L26.40,181.66 L27.20,181.15 L28.00,181.74 L28.80,181.75 L29.60,181.70 L30.40,181.44 L31.20,181.34 L32.00,181.61 L32.80,181.51 L33.60,181.44 L34.40,181.38 L35.20,181.45 L36.00,181.61 L36.80,181.72 L37.60,181.77 L38.40,181.26 L39.20,181.35 L40.00,181.45 L40.80,181.53 L41.60,181.38 L42.40,181.27 L43.20,181.19 L44.00,181.36 L44.80,181.45 L45.60,181.81 L46.40,181.76 L47.20,181.73 L48.00,181.80 L48.80,181.79 L49.60,181.55 L50.40,181.68 L51.20,181.15 L52.00,181.58 L52.80,181.53 L53.60,181.30 L54.40,181.49 L55.20,181.75 L56.00,181.42 L56.80,181.53 L57.60,181.28 L58.40,181.30 L59.20,181.68 L60.00,181.07 L60.80,181.17 L61.60,181.49 L62.40,181.29 L63.20,180.99 L64.00,181.34 L64.80,181.08 L65.60,181.17 L66.40,180.98 L67.20,181.00 L68.00,180.95 L68.80,180.76 L69.60,180.50 L70.40,180.48 L71.20,180.91 L72.00,180.62 L72.80,180.27 L73.60,180.75 L74.40,180.29 L75.20,180.15 L76.00,180.43 L76.80,180.21 L77.60,180.36 L78.40,180.39 L79.20,180.14 L80.00,180.37 L80.80,180.04 L81.60,180.32 L82.40,180.36 L83.20,180.01 L84.00,180.24 L84.80,180.01 L85.60,180.29 L86.40,180.61 L87.20,180.42 L88.00,180.57 L88.80,180.64 L89.60,180.24 L90.40,180.90 L91.20,180.76 L92.00,180.37 L92.80,180.93 L93.60,180.68 L94.40,180.57 L95.20,181.17 L96.00,180.94 L96.80,181.13 L97.60,180.72 L98.40,181.19 L99.20,180.72 L100.00,180.87 L100.80,180.99 L101.60,180.77 L102.40,181.20 L103.20,180.96 L104.00,181.04 L104.80,181.35 L105.60,181.17 L106.40,181.52 L107.20,181.35 L108.00,181.55 L108.80,181.35 L109.60,181.61 L110.40,181.60 L111.20,181.12 L112.00,181.53 L112.80,181.26 L113.60,181.57 L114.40,181.52 L115.20,181.62 L116.00,181.13 L116.80,181.31 L117.60,181.57 L118.40,181.71 L119.20,181.56 L120.00,181.08 L120.80,181.47 L121.60,181.12 L122.40,181.43 L123.20,181.61 L124.00,181.13 L124.80,181.70 L125.60,181.52 L126.40,181.23 L127.20,181.19 L128.00,181.36 L128.80,181.64 L129.60,181.46 L130.40,181.13 L131.20,181.06 L132.00,181.13 L132.80,181.61 L133.60,181.18 L134.40,181.44 L135.20,181.25 L136.00,181.53 L136.80,181.32 L137.60,181.15 L138.40,181.66 L139.20,181.43 L140.00,181.53 L140.80,181.62 L141.60,181.71 L142.40,181.06 L143.20,181.29 L144.00,181.16 L144.80,181.40 L145.60,181.66 L146.40,181.61 L147.20,181.07 L148.00,181.18 L148.80,181.62 L149.60,181.53 L150.30,181.40" stroke="#ee3d40"/>
<path d="M156.20,182.12 L157.00,182.10 L157.80,181.80 L158.60,182.20 L159.40,181.80 L160.20,182.06 L161.00,181.80 L161.80,181.34 L162.60,181.44 L163.40,181.28 L164.20,181.67 L165.00,181.38 L165.80,180.91 L166.60,180.92 L167.40,180.96 L168.20,180.95 L169.00,180.94 L169.80,180.71 L170.60,180.61 L171.40,180.31 L172.20,180.65 L173.00,180.40 L173.80,180.06 L174.60,180.19 L175.40,180.31 L176.20,179.34 L177.00,179.05 L177.80,179.01 L178.60,178.29 L179.40,177.82 L180.20,177.47 L181.00,176.78 L181.80,176.47 L182.60,175.87 L183.40,175.49 L184.20,174.68 L185.00,172.99 L185.80,172.18 L186.60,170.98 L187.40,169.56 L188.20,167.84 L189.00,165.91 L189.80,163.94 L190.60,161.67 L191.40,159.43 L192.20,157.38 L193.00,154.98 L193.80,152.74 L194.60,150.45 L195.40,148.19 L196.20,146.64 L197.00,144.83 L197.80,143.03 L198.60,141.81 L199.40,140.74 L200.20,140.20 L201.00,139.33 L201.80,137.93 L202.60,136.82 L203.40,135.96 L204.20,136.45 L205.00,136.61 L205.80,137.29 L206.60,138.03 L207.40,138.93 L208.20,140.03 L209.00,141.00 L209.80,142.14 L210.60,144.09 L211.40,145.20 L212.20,146.67 L213.00,148.23 L213.80,149.43 L214.60,150.59 L215.40,151.70 L216.20,152.99 L217.00,154.06 L217.80,155.35 L218.60,156.17 L219.40,157.33 L220.20,157.75 L221.00,158.95 L221.80,159.49 L222.60,159.91 L223.40,160.78 L224.20,161.87 L225.00,162.98 L225.80,163.34 L226.60,164.42 L227.40,164.93 L228.20,165.98 L229.00,166.14 L229.80,167.11 L230.60,168.03 L231.40,168.14 L232.20,168.61 L233.00,168.89 L233.80,169.38 L234.60,169.82 L235.40,170.46 L236.20,170.43 L237.00,170.84 L237.80,170.92 L238.60,171.39 L239.40,171.75 L240.20,171.77 L241.00,171.65 L241.80,172.26 L242.60,172.73 L243.40,172.82 L244.20,172.81 L245.00,173.62 L245.80,173.92 L246.60,173.79 L247.40,173.87 L248.20,174.13 L249.00,174.59 L249.80,175.03 L250.60,175.05 L251.40,175.44 L252.20,175.12 L253.00,175.38 L253.80,175.84 L254.60,175.94 L255.40,175.93 L256.20,176.29 L257.00,176.20 L257.80,176.16 L258.60,176.56 L259.40,176.45 L260.20,176.99 L261.00,176.92 L261.80,177.16 L262.60,177.36 L263.40,177.24 L264.20,177.50 L265.00,177.29 L265.80,178.03 L266.60,177.87 L267.40,178.26 L268.20,177.69 L269.00,178.15 L269.80,178.30 L270.60,178.08 L271.40,177.96 L272.20,178.05 L273.00,178.07 L273.80,178.54 L274.60,178.10 L275.40,178.63 L276.20,178.38 L277.00,178.48 L277.80,178.54 L278.60,178.54 L279.40,178.64 L280.20,178.63 L281.00,178.47 L281.20,178.60" stroke="#ee3d40"/>
<path d="M24.80,240.47 L25.60,240.13 L26.40,240.45 L27.20,240.48 L28.00,240.49 L28.80,240.17 L29.60,240.49 L30.40,240.63 L31.20,240.27 L32.00,240.14 L32.80,240.31 L33.60,240.61 L34.40,240.04 L35.20,239.95 L36.00,240.28 L36.80,240.40 L37.60,240.49 L38.40,240.20 L39.20,240.64 L40.00,240.10 L40.80,240.47 L41.60,240.00 L42.40,239.96 L43.20,240.03 L44.00,239.98 L44.80,240.29 L45.60,240.32 L46.40,240.06 L47.20,240.59 L48.00,240.18 L48.80,240.03 L49.60,240.04 L50.40,240.43 L51.20,240.56 L52.00,240.03 L52.80,239.93 L53.60,240.45 L54.40,240.07 L55.20,240.58 L56.00,240.24 L56.80,240.33 L57.60,240.12 L58.40,240.44 L59.20,240.19 L60.00,240.09 L60.80,240.49 L61.60,239.93 L62.40,240.36 L63.20,239.74 L64.00,239.83 L64.80,239.23 L65.60,239.09 L66.40,238.11 L67.20,238.14 L68.00,237.83 L68.80,238.04 L69.60,237.94 L70.40,237.62 L71.20,237.23 L72.00,237.13 L72.80,236.95 L73.60,236.86 L74.40,236.56 L75.20,236.49 L76.00,236.94 L76.80,236.97 L77.60,236.88 L78.40,237.51 L79.20,237.09 L80.00,237.43 L80.80,237.21 L81.60,237.78 L82.40,237.85 L83.20,237.51 L84.00,237.95 L84.80,238.12 L85.60,237.90 L86.40,238.10 L87.20,238.38 L88.00,238.82 L88.80,238.44 L89.60,238.90 L90.40,238.93 L91.20,238.90 L92.00,239.05 L92.80,239.32 L93.60,238.90 L94.40,239.41 L95.20,239.09 L96.00,239.42 L96.80,239.52 L97.60,239.08 L98.40,239.60 L99.20,239.74 L100.00,239.30 L100.80,239.15 L101.60,239.26 L102.40,239.91 L103.20,239.27 L104.00,239.95 L104.80,239.46 L105.60,239.91 L106.40,239.50 L107.20,239.58 L108.00,239.97 L108.80,239.59 L109.60,239.79 L110.40,240.22 L111.20,240.10 L112.00,240.24 L112.80,240.32 L113.60,239.67 L114.40,239.81 L115.20,240.20 L116.00,240.13 L116.80,239.68 L117.60,240.00 L118.40,239.81 L119.20,239.95 L120.00,239.72 L120.80,239.66 L121.60,240.34 L122.40,239.87 L123.20,240.27 L124.00,239.73 L124.80,239.99 L125.60,239.75 L126.40,239.95 L127.20,239.78 L128.00,240.13 L128.80,239.75 L129.60,240.17 L130.40,240.00 L131.20,239.73 L132.00,239.90 L132.80,240.00 L133.60,240.29 L134.40,239.89 L135.20,239.80 L136.00,240.33 L136.80,240.27 L137.60,240.16 L138.40,239.84 L139.20,239.77 L140.00,239.84 L140.80,239.70 L141.60,239.68 L142.40,240.01 L143.20,239.94 L144.00,240.04 L144.80,239.90 L145.60,239.66 L146.40,240.13 L147.20,240.11 L148.00,240.03 L148.80,240.03 L149.60,240.13 L150.30,240.00" stroke="#ee3d40"/>
<path d="M156.20,240.24 L157.00,240.13 L157.80,240.00 L158.60,239.76 L159.40,239.69 L160.20,239.74 L161.00,240.12 L161.80,239.69 L162.60,239.68 L163.40,239.67 L164.20,239.46 L165.00,240.03 L165.80,239.29 L166.60,239.67 L167.40,239.83 L168.20,239.29 L169.00,239.46 L169.80,239.20 L170.60,238.99 L171.40,238.84 L172.20,238.63 L173.00,238.98 L173.80,238.76 L174.60,238.64 L175.40,237.82 L176.20,238.02 L177.00,237.49 L177.80,237.43 L178.60,237.07 L179.40,236.61 L180.20,236.75 L181.00,235.70 L181.80,235.79 L182.60,235.35 L183.40,234.49 L184.20,233.79 L185.00,233.16 L185.80,231.57 L186.60,230.69 L187.40,229.50 L188.20,227.86 L189.00,226.64 L189.80,224.91 L190.60,223.49 L191.40,222.00 L192.20,220.34 L193.00,218.35 L193.80,216.88 L194.60,215.31 L195.40,213.87 L196.20,213.33 L197.00,212.60 L197.80,212.82 L198.60,212.39 L199.40,212.50 L200.20,212.31 L201.00,212.19 L201.80,211.84 L202.60,211.02 L203.40,211.38 L204.20,211.62 L205.00,212.43 L205.80,213.32 L206.60,214.29 L207.40,214.63 L208.20,215.34 L209.00,216.57 L209.80,217.11 L210.60,218.05 L211.40,219.01 L212.20,219.93 L213.00,220.88 L213.80,221.30 L214.60,222.50 L215.40,223.69 L216.20,224.38 L217.00,224.44 L217.80,224.90 L218.60,225.33 L219.40,225.55 L220.20,226.03 L221.00,226.68 L221.80,226.87 L222.60,227.24 L223.40,227.42 L224.20,228.07 L225.00,228.93 L225.80,229.14 L226.60,229.36 L227.40,229.74 L228.20,230.28 L229.00,230.52 L229.80,230.31 L230.60,230.87 L231.40,230.82 L232.20,231.09 L233.00,231.07 L233.80,231.37 L234.60,231.59 L235.40,231.91 L236.20,232.00 L237.00,232.50 L237.80,233.12 L238.60,233.11 L239.40,233.49 L240.20,234.11 L241.00,233.99 L241.80,234.21 L242.60,234.32 L243.40,234.89 L244.20,234.51 L245.00,235.03 L245.80,235.30 L246.60,234.95 L247.40,235.20 L248.20,235.55 L249.00,235.52 L249.80,235.42 L250.60,235.26 L251.40,235.61 L252.20,235.62 L253.00,235.93 L253.80,235.69 L254.60,235.83 L255.40,236.06 L256.20,236.24 L257.00,235.98 L257.80,236.07 L258.60,236.27 L259.40,236.59 L260.20,236.16 L261.00,236.80 L261.80,236.70 L262.60,236.55 L263.40,236.83 L264.20,236.68 L265.00,236.58 L265.80,237.14 L266.60,236.95 L267.40,237.13 L268.20,237.19 L269.00,237.55 L269.80,237.52 L270.60,237.08 L271.40,237.55 L272.20,237.54 L273.00,237.61 L273.80,237.95 L274.60,237.72 L275.40,237.84 L276.20,238.20 L277.00,237.96 L277.80,238.07 L278.60,238.16 L279.40,238.46 L280.20,238.42 L281.00,238.55 L281.20,238.40" stroke="#ee3d40"/>
<path d="M24.80,295.83 L25.60,295.58 L26.40,296.03 L27.20,295.94 L28.00,296.09 L28.80,296.09 L29.60,295.63 L30.40,295.70 L31.20,295.60 L32.00,296.12 L32.80,295.62 L33.60,295.61 L34.40,296.07 L35.20,295.94 L36.00,295.58 L36.80,296.02 L37.60,296.04 L38.40,295.88 L39.20,295.58 L40.00,296.02 L40.80,295.83 L41.60,295.94 L42.40,296.23 L43.20,296.10 L44.00,296.13 L44.80,295.62 L45.60,295.75 L46.40,295.87 L47.20,295.51 L48.00,296.19 L48.80,295.69 L49.60,295.68 L50.40,295.70 L51.20,295.66 L52.00,296.07 L52.80,295.86 L53.60,295.82 L54.40,295.75 L55.20,295.48 L56.00,295.65 L56.80,296.03 L57.60,295.98 L58.40,296.01 L59.20,295.58 L60.00,295.53 L60.80,295.41 L61.60,295.74 L62.40,295.61 L63.20,295.36 L64.00,294.71 L64.80,293.90 L65.60,292.83 L66.40,292.34 L67.20,291.38 L68.00,291.53 L68.80,291.01 L69.60,290.49 L70.40,290.59 L71.20,290.73 L72.00,290.78 L72.80,291.13 L73.60,291.22 L74.40,291.36 L75.20,291.79 L76.00,291.46 L76.80,291.82 L77.60,292.03 L78.40,292.08 L79.20,292.22 L80.00,292.80 L80.80,292.71 L81.60,293.24 L82.40,292.87 L83.20,293.35 L84.00,293.70 L84.80,293.49 L85.60,294.26 L86.40,293.88 L87.20,294.41 L88.00,294.26 L88.80,294.91 L89.60,294.79 L90.40,295.07 L91.20,294.97 L92.00,295.19 L92.80,295.29 L93.60,295.11 L94.40,295.14 L95.20,295.66 L96.00,295.25 L96.80,295.86 L97.60,295.44 L98.40,295.43 L99.20,295.48 L100.00,296.02 L100.80,296.19 L101.60,295.85 L102.40,296.06 L103.20,295.81 L104.00,296.28 L104.80,296.13 L105.60,295.76 L106.40,295.69 L107.20,296.14 L108.00,295.68 L108.80,296.23 L109.60,295.85 L110.40,295.81 L111.20,296.05 L112.00,295.87 L112.80,296.04 L113.60,295.75 L114.40,296.28 L115.20,295.87 L116.00,296.23 L116.80,295.74 L117.60,296.20 L118.40,296.32 L119.20,295.91 L120.00,295.65 L120.80,295.90 L121.60,296.08 L122.40,295.78 L123.20,296.01 L124.00,295.69 L124.80,295.95 L125.60,296.13 L126.40,295.92 L127.20,296.09 L128.00,295.69 L128.80,296.19 L129.60,295.69 L130.40,296.25 L131.20,296.30 L132.00,296.26 L132.80,295.97 L133.60,295.80 L134.40,295.84 L135.20,296.12 L136.00,295.94 L136.80,296.24 L137.60,295.65 L138.40,295.92 L139.20,296.18 L140.00,296.00 L140.80,295.95 L141.60,295.63 L142.40,295.67 L143.20,295.76 L144.00,296.19 L144.80,296.16 L145.60,295.72 L146.40,296.21 L147.20,295.58 L148.00,295.97 L148.80,296.23 L149.60,295.79 L150.30,295.90" stroke="#ee3d40"/>
<path d="M156.20,296.21 L157.00,296.00 L157.80,295.56 L158.60,295.74 L159.40,295.81 L160.20,295.65 L161.00,295.98 L161.80,295.58 L162.60,296.00 L163.40,295.66 L164.20,295.51 L165.00,295.86 L165.80,295.55 L166.60,295.89 L167.40,296.07 L168.20,295.95 L169.00,295.87 L169.80,295.57 L170.60,295.88 L171.40,295.46 L172.20,295.63 L173.00,295.00 L173.80,295.01 L174.60,294.54 L175.40,294.25 L176.20,294.19 L177.00,293.62 L177.80,293.41 L178.60,293.70 L179.40,292.95 L180.20,292.85 L181.00,292.25 L181.80,291.18 L182.60,290.04 L183.40,289.02 L184.20,288.60 L185.00,287.15 L185.80,286.56 L186.60,285.75 L187.40,284.62 L188.20,284.06 L189.00,283.07 L189.80,282.61 L190.60,281.92 L191.40,281.20 L192.20,280.51 L193.00,280.15 L193.80,279.59 L194.60,279.20 L195.40,279.01 L196.20,279.23 L197.00,278.78 L197.80,278.88 L198.60,278.14 L199.40,278.72 L200.20,278.41 L201.00,278.76 L201.80,278.90 L202.60,279.46 L203.40,279.80 L204.20,280.90 L205.00,281.16 L205.80,281.82 L206.60,282.22 L207.40,283.00 L208.20,283.55 L209.00,283.79 L209.80,284.54 L210.60,284.25 L211.40,284.85 L212.20,284.86 L213.00,285.39 L213.80,285.84 L214.60,286.14 L215.40,286.04 L216.20,286.53 L217.00,287.13 L217.80,287.72 L218.60,287.35 L219.40,288.00 L220.20,288.25 L221.00,288.50 L221.80,288.30 L222.60,288.76 L223.40,288.63 L224.20,289.08 L225.00,288.58 L225.80,289.37 L226.60,289.14 L227.40,289.28 L228.20,289.19 L229.00,289.44 L229.80,289.92 L230.60,290.01 L231.40,289.78 L232.20,290.04 L233.00,290.02 L233.80,290.18 L234.60,290.31 L235.40,290.50 L236.20,291.06 L237.00,291.19 L237.80,291.16 L238.60,291.06 L239.40,291.19 L240.20,291.51 L241.00,291.73 L241.80,291.77 L242.60,291.83 L243.40,291.68 L244.20,292.13 L245.00,292.43 L245.80,292.54 L246.60,292.20 L247.40,292.78 L248.20,292.65 L249.00,292.63 L249.80,293.30 L250.60,293.19 L251.40,293.32 L252.20,292.97 L253.00,293.52 L253.80,293.66 L254.60,293.69 L255.40,293.63 L256.20,293.73 L257.00,293.75 L257.80,293.65 L258.60,293.57 L259.40,293.88 L260.20,293.89 L261.00,293.99 L261.80,293.62 L262.60,294.13 L263.40,293.87 L264.20,294.21 L265.00,293.67 L265.80,294.32 L266.60,294.24 L267.40,293.91 L268.20,294.37 L269.00,294.00 L269.80,294.02 L270.60,294.25 L271.40,294.14 L272.20,294.37 L273.00,294.70 L273.80,294.60 L274.60,294.66 L275.40,294.48 L276.20,294.80 L277.00,294.86 L277.80,294.83 L278.60,295.06 L279.40,295.02 L280.20,294.78 L281.00,294.60 L281.20,294.90" stroke="#ee3d40"/>
<path d="M24.80,355.01 L25.60,355.14 L26.40,354.79 L27.20,354.97 L28.00,355.14 L28.80,355.10 L29.60,354.55 L30.40,354.89 L31.20,354.56 L32.00,354.63 L32.80,355.12 L33.60,354.84 L34.40,354.97 L35.20,354.87 L36.00,354.78 L36.80,354.70 L37.60,354.79 L38.40,355.14 L39.20,354.98 L40.00,354.75 L40.80,354.60 L41.60,354.73 L42.40,355.03 L43.20,354.85 L44.00,355.00 L44.80,355.10 L45.60,354.62 L46.40,355.01 L47.20,354.56 L48.00,355.10 L48.80,354.65 L49.60,354.71 L50.40,355.19 L51.20,354.77 L52.00,354.67 L52.80,355.13 L53.60,354.94 L54.40,355.13 L55.20,354.78 L56.00,354.85 L56.80,355.16 L57.60,354.84 L58.40,355.18 L59.20,354.61 L60.00,355.06 L60.80,354.58 L61.60,354.83 L62.40,354.46 L63.20,354.58 L64.00,354.82 L64.80,353.13 L65.60,351.55 L66.40,349.55 L67.20,348.15 L68.00,346.63 L68.80,346.06 L69.60,345.81 L70.40,345.41 L71.20,345.50 L72.00,346.40 L72.80,347.02 L73.60,347.41 L74.40,347.55 L75.20,348.51 L76.00,348.94 L76.80,349.82 L77.60,349.85 L78.40,350.45 L79.20,350.77 L80.00,350.90 L80.80,351.28 L81.60,351.65 L82.40,352.05 L83.20,352.00 L84.00,352.13 L84.80,352.77 L85.60,352.33 L86.40,353.06 L87.20,353.13 L88.00,353.20 L88.80,353.28 L89.60,353.64 L90.40,353.88 L91.20,353.90 L92.00,354.04 L92.80,353.66 L93.60,353.98 L94.40,353.96 L95.20,354.64 L96.00,354.70 L96.80,354.27 L97.60,354.66 L98.40,354.72 L99.20,354.40 L100.00,354.69 L100.80,354.96 L101.60,354.90 L102.40,354.65 L103.20,354.99 L104.00,354.67 L104.80,354.85 L105.60,354.77 L106.40,355.16 L107.20,354.94 L108.00,355.05 L108.80,354.96 L109.60,354.76 L110.40,355.17 L111.20,354.99 L112.00,354.98 L112.80,354.70 L113.60,354.62 L114.40,354.91 L115.20,355.09 L116.00,355.07 L116.80,354.76 L117.60,354.62 L118.40,354.88 L119.20,355.14 L120.00,354.64 L120.80,355.04 L121.60,354.65 L122.40,354.75 L123.20,354.57 L124.00,354.74 L124.80,354.80 L125.60,355.21 L126.40,355.21 L127.20,354.67 L128.00,354.76 L128.80,355.20 L129.60,354.68 L130.40,354.77 L131.20,354.85 L132.00,354.62 L132.80,354.73 L133.60,354.82 L134.40,354.81 L135.20,355.22 L136.00,354.73 L136.80,354.69 L137.60,355.18 L138.40,354.86 L139.20,355.13 L140.00,354.99 L140.80,355.09 L141.60,354.77 L142.40,354.65 L143.20,355.08 L144.00,354.88 L144.80,354.94 L145.60,355.02 L146.40,355.08 L147.20,354.74 L148.00,354.80 L148.80,355.19 L149.60,354.92 L150.30,354.90" stroke="#ee3d40"/>
<path d="M156.20,354.45 L157.00,354.67 L157.80,354.39 L158.60,354.72 L159.40,354.19 L160.20,354.71 L161.00,354.51 L161.80,354.33 L162.60,354.72 L163.40,354.22 L164.20,354.19 L165.00,354.05 L165.80,354.38 L166.60,354.51 L167.40,354.44 L168.20,354.23 L169.00,354.47 L169.80,353.94 L170.60,354.02 L171.40,354.18 L172.20,354.31 L173.00,353.96 L173.80,353.84 L174.60,353.71 L175.40,353.24 L176.20,353.40 L177.00,353.03 L177.80,352.52 L178.60,352.32 L179.40,352.39 L180.20,351.86 L181.00,351.53 L181.80,351.78 L182.60,351.31 L183.40,351.07 L184.20,350.94 L185.00,350.88 L185.80,350.12 L186.60,350.06 L187.40,349.67 L188.20,349.74 L189.00,349.63 L189.80,349.71 L190.60,349.42 L191.40,349.21 L192.20,348.95 L193.00,348.95 L193.80,348.65 L194.60,348.98 L195.40,348.91 L196.20,348.94 L197.00,348.52 L197.80,348.98 L198.60,349.17 L199.40,349.15 L200.20,349.61 L201.00,349.80 L201.80,349.88 L202.60,350.11 L203.40,350.15 L204.20,350.45 L205.00,350.04 L205.80,350.56 L206.60,350.66 L207.40,350.71 L208.20,350.57 L209.00,350.53 L209.80,351.00 L210.60,351.25 L211.40,350.96 L212.20,351.00 L213.00,351.09 L213.80,351.08 L214.60,351.57 L215.40,351.85 L216.20,351.80 L217.00,351.56 L217.80,351.85 L218.60,351.47 L219.40,352.06 L220.20,351.76 L221.00,351.58 L221.80,352.06 L222.60,351.76 L223.40,351.89 L224.20,351.77 L225.00,352.08 L225.80,352.19 L226.60,352.39 L227.40,351.88 L228.20,352.46 L229.00,351.98 L229.80,352.09 L230.60,352.39 L231.40,352.21 L232.20,352.23 L233.00,352.42 L233.80,352.19 L234.60,352.62 L235.40,352.23 L236.20,352.70 L237.00,352.70 L237.80,352.53 L238.60,352.21 L239.40,352.76 L240.20,352.26 L241.00,352.63 L241.80,352.60 L242.60,352.38 L243.40,352.81 L244.20,352.91 L245.00,352.84 L245.80,352.74 L246.60,352.85 L247.40,352.94 L248.20,352.72 L249.00,353.20 L249.80,353.32 L250.60,353.22 L251.40,353.36 L252.20,352.95 L253.00,353.44 L253.80,352.83 L254.60,353.14 L255.40,352.93 L256.20,353.18 L257.00,353.37 L257.80,353.42 L258.60,353.27 L259.40,353.22 L260.20,353.14 L261.00,353.32 L261.80,353.26 L262.60,353.23 L263.40,353.64 L264.20,353.51 L265.00,353.48 L265.80,353.34 L266.60,353.71 L267.40,353.38 L268.20,353.46 L269.00,353.69 L269.80,353.81 L270.60,354.02 L271.40,353.89 L272.20,354.05 L273.00,354.05 L273.80,353.94 L274.60,353.96 L275.40,353.52 L276.20,353.65 L277.00,353.54 L277.80,354.15 L278.60,354.08 L279.40,354.04 L280.20,353.80 L281.00,353.89 L281.20,354.00" stroke="#ee3d40"/>
</g>
<line x1="88.3" y1="37.1" x2="66.3" y2="359.4" stroke="#ee3d40" stroke-width="1.1" stroke-dasharray="7.6 7.0" stroke-dashoffset="3.7"/>
<line x1="214.4" y1="23.0" x2="193.2" y2="347.4" stroke="#5a5a5a" stroke-width="1.1" stroke-dasharray="7.5 7.1" stroke-dashoffset="1.6"/>
<g stroke="#1a1a1a" stroke-width="1.4" fill="none">
<path d="M151,15 H25 V361.4 H150.4"/>
<path d="M157,361.4 H281.6 V15 H157"/>
<path d="M148.6,365.5 L153.4,357.5 M153.6,365.5 L158,357.5" stroke-width="1.45" stroke="#000"/>
<path d="M148.6,18.5 L153.4,11.2 M153.4,18.5 L157.7,11.2" stroke-width="1.45" stroke="#000"/>
</g>
<g stroke="#1a1a1a" stroke-width="1.1"><line x1="56.5" y1="361.4" x2="56.5" y2="358.9"/><line x1="88.5" y1="361.4" x2="88.5" y2="357.4"/><line x1="120.5" y1="361.4" x2="120.5" y2="358.9"/><line x1="176.5" y1="361.4" x2="176.5" y2="358.9"/><line x1="197.5" y1="361.4" x2="197.5" y2="357.4"/><line x1="218.5" y1="361.4" x2="218.5" y2="358.9"/><line x1="239.5" y1="361.4" x2="239.5" y2="357.4"/><line x1="260.5" y1="361.4" x2="260.5" y2="358.9"/></g>
<text transform="translate(24.50,384.40) scale(1,1.06)" text-anchor="middle" font-family="Liberation Sans" font-size="17.4" fill="#111" stroke="#111" stroke-width="0.25" >480</text>
<text transform="translate(87.70,384.40) scale(1,1.06)" text-anchor="middle" font-family="Liberation Sans" font-size="17.4" fill="#111" stroke="#111" stroke-width="0.25" >500</text>
<text transform="translate(155.00,384.40) scale(1,1.06)" text-anchor="middle" font-family="Liberation Sans" font-size="17.4" fill="#111" stroke="#111" stroke-width="0.25" >600</text>
<text transform="translate(197.30,384.40) scale(1,1.06)" text-anchor="middle" font-family="Liberation Sans" font-size="17.4" fill="#111" stroke="#111" stroke-width="0.25" >620</text>
<text transform="translate(239.20,384.40) scale(1,1.06)" text-anchor="middle" font-family="Liberation Sans" font-size="17.4" fill="#111" stroke="#111" stroke-width="0.25" >640</text>
<text transform="translate(279.40,384.40) scale(1,1.06)" text-anchor="middle" font-family="Liberation Sans" font-size="17.4" fill="#111" stroke="#111" stroke-width="0.25" >660</text>
<text transform="translate(157.00,408.00) scale(1,1.06)" text-anchor="middle" font-family="Liberation Sans" font-size="17.4" fill="#111" stroke="#111" stroke-width="0.25" >Wavelength (nm)</text>
<text transform="translate(14.40,186.90) rotate(-90) scale(1,1.0)" text-anchor="middle" font-family="Liberation Sans" font-size="17.2" fill="#111" stroke="#111" stroke-width="0.25" >PL intensity (a.u.)</text>
<text transform="translate(288.00,69.60) scale(1,1.06)" text-anchor="start" font-family="Liberation Sans" font-size="17.4" fill="#111" stroke="#111" stroke-width="0.25" >220 K</text>
<text transform="translate(288.00,131.60) scale(1,1.06)" text-anchor="start" font-family="Liberation Sans" font-size="17.4" fill="#111" stroke="#111" stroke-width="0.25" > 80 K</text><path transform="translate(288.00,131.60) scale(0.00850,-0.00901)" d="M612,0 H800 V1409 H655 C610,1300 500,1225 250,1205 V1040 H612 Z" fill="#111" stroke="#111" stroke-width="29.4"/>
<text transform="translate(288.00,183.90) scale(1,1.06)" text-anchor="start" font-family="Liberation Sans" font-size="17.4" fill="#111" stroke="#111" stroke-width="0.25" > 60 K</text><path transform="translate(288.00,183.90) scale(0.00850,-0.00901)" d="M612,0 H800 V1409 H655 C610,1300 500,1225 250,1205 V1040 H612 Z" fill="#111" stroke="#111" stroke-width="29.4"/>
<text transform="translate(288.00,242.70) scale(1,1.06)" text-anchor="start" font-family="Liberation Sans" font-size="17.4" fill="#111" stroke="#111" stroke-width="0.25" > 40 K</text><path transform="translate(288.00,242.70) scale(0.00850,-0.00901)" d="M612,0 H800 V1409 H655 C610,1300 500,1225 250,1205 V1040 H612 Z" fill="#111" stroke="#111" stroke-width="29.4"/>
<text transform="translate(288.00,299.90) scale(1,1.06)" text-anchor="start" font-family="Liberation Sans" font-size="17.4" fill="#111" stroke="#111" stroke-width="0.25" >  0 K</text><path transform="translate(288.00,299.90) scale(0.00850,-0.00901)" d="M612,0 H800 V1409 H655 C610,1300 500,1225 250,1205 V1040 H612 Z" fill="#111" stroke="#111" stroke-width="29.4"/><path transform="translate(297.68,299.90) scale(0.00850,-0.00901)" d="M612,0 H800 V1409 H655 C610,1300 500,1225 250,1205 V1040 H612 Z" fill="#111" stroke="#111" stroke-width="29.4"/>
<text transform="translate(288.00,357.60) scale(1,1.06)" text-anchor="start" font-family="Liberation Sans" font-size="17.4" fill="#111" stroke="#111" stroke-width="0.25" >78 K</text>
<text transform="translate(28.40,35.80) scale(1,1.06)" text-anchor="start" font-family="Liberation Sans" font-size="17.4" fill="#111" stroke="#111" stroke-width="0.25" >Exc: 488 nm <tspan font-family="Liberation Serif" font-style="italic" font-size="17.5">σ</tspan><tspan dx="0.3" dy="1.0">−</tspan></text>
<text transform="translate(267.00,33.60) scale(1,1.06)" text-anchor="end" font-family="Liberation Sans" font-size="17.4" fill="#111" stroke="#111" stroke-width="0.25" ><tspan font-family="Liberation Serif" font-style="italic" font-size="17.5">σ</tspan><tspan dx="0.4" dy="1.6">−</tspan></text>
<text transform="translate(267.00,51.90) scale(1,1.06)" text-anchor="end" font-family="Liberation Sans" font-size="17.4" fill="#ff0000" stroke="#ff0000" stroke-width="0.25" ><tspan font-family="Liberation Serif" font-style="italic" font-size="17.5">σ</tspan><tspan dx="0.6" dy="1.6">+</tspan></text>
<text transform="translate(93.70,332.70) scale(1,1.06)" text-anchor="start" font-family="Liberation Sans" font-size="17.4" fill="#111" stroke="#111" stroke-width="0.25" >PbI<tspan font-size="13" dy="4">2</tspan></text>
<text transform="translate(218.80,334.20) scale(1,1.06)" text-anchor="start" font-family="Liberation Sans" font-size="17.4" fill="#111" stroke="#111" stroke-width="0.25" >WS<tspan font-size="13" dy="4">2</tspan></text>
<text transform="translate(-1.50,15.60) scale(1,1.0)" text-anchor="start" font-family="Liberation Sans" font-size="22" fill="#000" font-weight="bold">a</text>
<text transform="translate(356.00,15.80) scale(1,1.0)" text-anchor="start" font-family="Liberation Sans" font-size="22" fill="#000" font-weight="bold">b</text>
<path d="M416.5,15 H684.5 V360.8 H416.5 Z" fill="none" stroke="#1a1a1a" stroke-width="1.4"/>
<g stroke="#1a1a1a" stroke-width="1.1"><line x1="416.60" y1="360.8" x2="416.60" y2="356.8"/><line x1="437.72" y1="360.8" x2="437.72" y2="358.6"/><line x1="458.84" y1="360.8" x2="458.84" y2="356.8"/><line x1="479.96" y1="360.8" x2="479.96" y2="358.6"/><line x1="501.08" y1="360.8" x2="501.08" y2="356.8"/><line x1="522.20" y1="360.8" x2="522.20" y2="358.6"/><line x1="543.32" y1="360.8" x2="543.32" y2="356.8"/><line x1="564.44" y1="360.8" x2="564.44" y2="358.6"/><line x1="585.56" y1="360.8" x2="585.56" y2="356.8"/><line x1="606.68" y1="360.8" x2="606.68" y2="358.6"/><line x1="627.80" y1="360.8" x2="627.80" y2="356.8"/><line x1="648.92" y1="360.8" x2="648.92" y2="358.6"/><line x1="670.04" y1="360.8" x2="670.04" y2="356.8"/><line x1="416.5" y1="317.60" x2="420.5" y2="317.60"/><line x1="416.5" y1="274.35" x2="418.7" y2="274.35"/><line x1="416.5" y1="231.10" x2="420.5" y2="231.10"/><line x1="416.5" y1="187.85" x2="418.7" y2="187.85"/><line x1="416.5" y1="144.60" x2="420.5" y2="144.60"/><line x1="416.5" y1="101.35" x2="418.7" y2="101.35"/><line x1="416.5" y1="58.10" x2="420.5" y2="58.10"/><line x1="416.5" y1="14.85" x2="418.7" y2="14.85"/></g>
<text transform="translate(417.40,380.00) scale(1,1.06)" text-anchor="middle" font-family="Liberation Sans" font-size="17.4" fill="#111" stroke="#111" stroke-width="0.25" >60</text>
<text transform="translate(459.34,380.00) scale(1,1.06)" text-anchor="middle" font-family="Liberation Sans" font-size="17.4" fill="#111" stroke="#111" stroke-width="0.25" >90</text>
<text transform="translate(498.38,380.00) scale(1,1.06)" text-anchor="middle" font-family="Liberation Sans" font-size="17.4" fill="#111" stroke="#111" stroke-width="0.25" > 20</text><path transform="translate(483.86,380.00) scale(0.00850,-0.00901)" d="M612,0 H800 V1409 H655 C610,1300 500,1225 250,1205 V1040 H612 Z" fill="#111" stroke="#111" stroke-width="29.4"/>
<text transform="translate(542.02,380.00) scale(1,1.06)" text-anchor="middle" font-family="Liberation Sans" font-size="17.4" fill="#111" stroke="#111" stroke-width="0.25" > 50</text><path transform="translate(527.50,380.00) scale(0.00850,-0.00901)" d="M612,0 H800 V1409 H655 C610,1300 500,1225 250,1205 V1040 H612 Z" fill="#111" stroke="#111" stroke-width="29.4"/>
<text transform="translate(583.76,380.00) scale(1,1.06)" text-anchor="middle" font-family="Liberation Sans" font-size="17.4" fill="#111" stroke="#111" stroke-width="0.25" > 80</text><path transform="translate(569.24,380.00) scale(0.00850,-0.00901)" d="M612,0 H800 V1409 H655 C610,1300 500,1225 250,1205 V1040 H612 Z" fill="#111" stroke="#111" stroke-width="29.4"/>
<text transform="translate(626.50,380.00) scale(1,1.06)" text-anchor="middle" font-family="Liberation Sans" font-size="17.4" fill="#111" stroke="#111" stroke-width="0.25" >2 0</text><path transform="translate(621.66,380.00) scale(0.00850,-0.00901)" d="M612,0 H800 V1409 H655 C610,1300 500,1225 250,1205 V1040 H612 Z" fill="#111" stroke="#111" stroke-width="29.4"/>
<text transform="translate(668.74,380.00) scale(1,1.06)" text-anchor="middle" font-family="Liberation Sans" font-size="17.4" fill="#111" stroke="#111" stroke-width="0.25" >240</text>
<text transform="translate(409.80,323.30) scale(1,1.06)" text-anchor="end" font-family="Liberation Sans" font-size="17.4" fill="#111" stroke="#111" stroke-width="0.25" >0.7</text>
<text transform="translate(409.80,236.80) scale(1,1.06)" text-anchor="end" font-family="Liberation Sans" font-size="17.4" fill="#111" stroke="#111" stroke-width="0.25" >0.8</text>
<text transform="translate(409.80,150.30) scale(1,1.06)" text-anchor="end" font-family="Liberation Sans" font-size="17.4" fill="#111" stroke="#111" stroke-width="0.25" >0.9</text>
<text transform="translate(409.80,63.80) scale(1,1.06)" text-anchor="end" font-family="Liberation Sans" font-size="17.4" fill="#111" stroke="#111" stroke-width="0.25" > .0</text><path transform="translate(385.61,63.80) scale(0.00850,-0.00901)" d="M612,0 H800 V1409 H655 C610,1300 500,1225 250,1205 V1040 H612 Z" fill="#111" stroke="#111" stroke-width="29.4"/>
<text transform="translate(550.20,403.00) scale(1,1.06)" text-anchor="middle" font-family="Liberation Sans" font-size="17.4" fill="#111" stroke="#111" stroke-width="0.25" >Temperature (K)</text>
<text transform="translate(626.00,319.90) scale(1,1.06)" text-anchor="start" font-family="Liberation Sans" font-size="17.4" fill="#111" stroke="#111" stroke-width="0.25" >PbI<tspan font-size="13" dy="4">2</tspan></text>
<text transform="translate(371.50,188.00) rotate(-90) scale(1,1.0)" text-anchor="middle" font-family="Liberation Serif" font-size="19.5" fill="#111" stroke="#111" stroke-width="0.15" font-style="italic">ρ</text>
<circle cx="441.5" cy="330.6" r="6.5" fill="url(#sph)"/><circle cx="439.80" cy="328.90" r="3.8" fill="url(#hl)"/>
<circle cx="447.6" cy="326.9" r="6.5" fill="url(#sph)"/><circle cx="445.90" cy="325.20" r="3.8" fill="url(#hl)"/>
<circle cx="458.6" cy="303.6" r="6.5" fill="url(#sph)"/><circle cx="456.90" cy="301.90" r="3.8" fill="url(#hl)"/>
<circle cx="472.7" cy="292.5" r="6.5" fill="url(#sph)"/><circle cx="471.00" cy="290.80" r="3.8" fill="url(#hl)"/>
<circle cx="486.4" cy="253.4" r="6.5" fill="url(#sph)"/><circle cx="484.70" cy="251.70" r="3.8" fill="url(#hl)"/>
<circle cx="501" cy="210.2" r="6.5" fill="url(#sph)"/><circle cx="499.30" cy="208.50" r="3.8" fill="url(#hl)"/>
<circle cx="514.8" cy="187.9" r="6.5" fill="url(#sph)"/><circle cx="513.10" cy="186.20" r="3.8" fill="url(#hl)"/>
<circle cx="543.3" cy="124.5" r="6.5" fill="url(#sph)"/><circle cx="541.60" cy="122.80" r="3.8" fill="url(#hl)"/>
<circle cx="557.3" cy="106.3" r="6.5" fill="url(#sph)"/><circle cx="555.60" cy="104.60" r="3.8" fill="url(#hl)"/>
<circle cx="585.5" cy="94.6" r="6.5" fill="url(#sph)"/><circle cx="583.80" cy="92.90" r="3.8" fill="url(#hl)"/>
<circle cx="613.4" cy="95.3" r="6.5" fill="url(#sph)"/><circle cx="611.70" cy="93.60" r="3.8" fill="url(#hl)"/>
<circle cx="627.7" cy="78.8" r="6.5" fill="url(#sph)"/><circle cx="626.00" cy="77.10" r="3.8" fill="url(#hl)"/>
<circle cx="642" cy="58.2" r="6.5" fill="url(#sph)"/><circle cx="640.30" cy="56.50" r="3.8" fill="url(#hl)"/>
<circle cx="656.1" cy="58.2" r="6.5" fill="url(#sph)"/><circle cx="654.40" cy="56.50" r="3.8" fill="url(#hl)"/>
</svg>
</body></html>
